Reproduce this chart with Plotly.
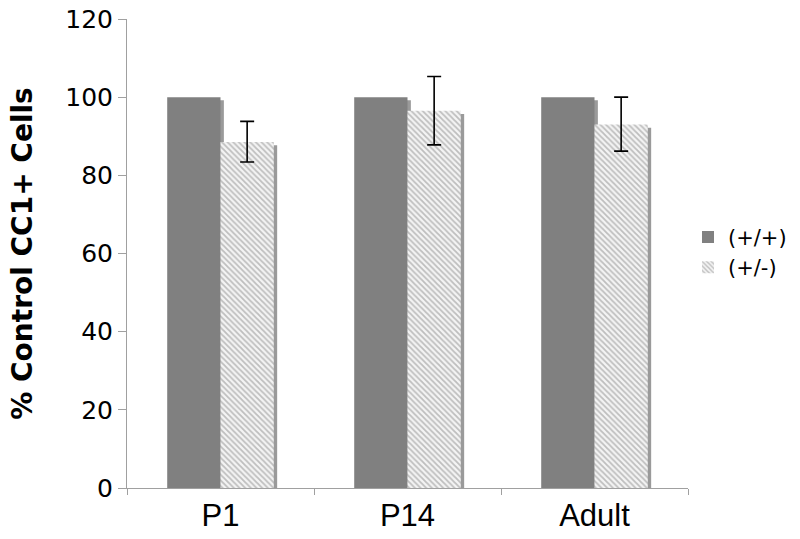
import plotly.graph_objects as go

stages = ["P1", "P14", "Adult"]
wt_values = [100, 100, 100]
het_values = [88.5, 96.5, 93.0]
het_err_plus = [5.3, 8.8, 7.0]
het_err_minus = [5.1, 8.7, 6.8]

font = "DejaVu Sans, Verdana, sans-serif"
bar_w = 0.285

fig = go.Figure()

# drop shadows behind each bar
for off in (-bar_w, 0):
    vals = wt_values if off < 0 else het_values
    fig.add_trace(go.Bar(
        x=stages, y=vals, base=-0.8, width=bar_w, offset=off + 0.018,
        marker=dict(color="#9a9a9a", line=dict(width=0)),
        showlegend=False, hoverinfo="skip",
    ))

fig.add_trace(go.Bar(
    x=stages, y=wt_values, name="(+/+)", width=bar_w, offset=-bar_w,
    marker=dict(color="#808080", line=dict(width=0)),
))
fig.add_trace(go.Bar(
    x=stages, y=het_values, name="(+/-)", width=bar_w, offset=0,
    marker=dict(
        color="#f2f2f2", line=dict(width=0),
        pattern=dict(shape="\\", fgcolor="#888888", bgcolor="#f4f4f4", size=4, solidity=0.45),
    ),
    error_y=dict(type="data", array=het_err_plus, arrayminus=het_err_minus,
                 color="black", thickness=1.6, width=7),
))

fig.update_layout(
    width=800, height=539,
    barmode="overlay",
    plot_bgcolor="white", paper_bgcolor="white",
    margin=dict(l=127, r=110, t=19, b=51),
    font=dict(family=font, color="black"),
    legend=dict(xref="container", yref="container", x=0.86, y=0.532,
                xanchor="left", yanchor="middle",
                font=dict(size=21, family=font), tracegroupgap=0),
)
fig.update_yaxes(
    range=[0, 120], dtick=20, showgrid=False, automargin=False,
    showline=True, linecolor="#a0a0a0", linewidth=1,
    ticks="outside", ticklen=8, tickcolor="#a0a0a0", ticklabeloverflow="allow",
    tickfont=dict(size=25, family=font),
    title=dict(text="<b>% Control CC1+ Cells</b>", font=dict(size=28, family=font), standoff=24),
)
fig.update_xaxes(
    range=[-0.5, 2.5], showgrid=False, automargin=False,
    showline=True, linecolor="#a0a0a0", linewidth=1,
    ticks="outside", tickson="boundaries", ticklen=6, tickcolor="#a0a0a0",
    tickfont=dict(size=31, family="Liberation Sans, Arial, sans-serif"),
)

# page body margin off so the figure sits flush in the window
fig.write_html(
    "out.html",
    config={"displayModeBar": False},
    post_script="document.body.style.margin = '0';",
)
